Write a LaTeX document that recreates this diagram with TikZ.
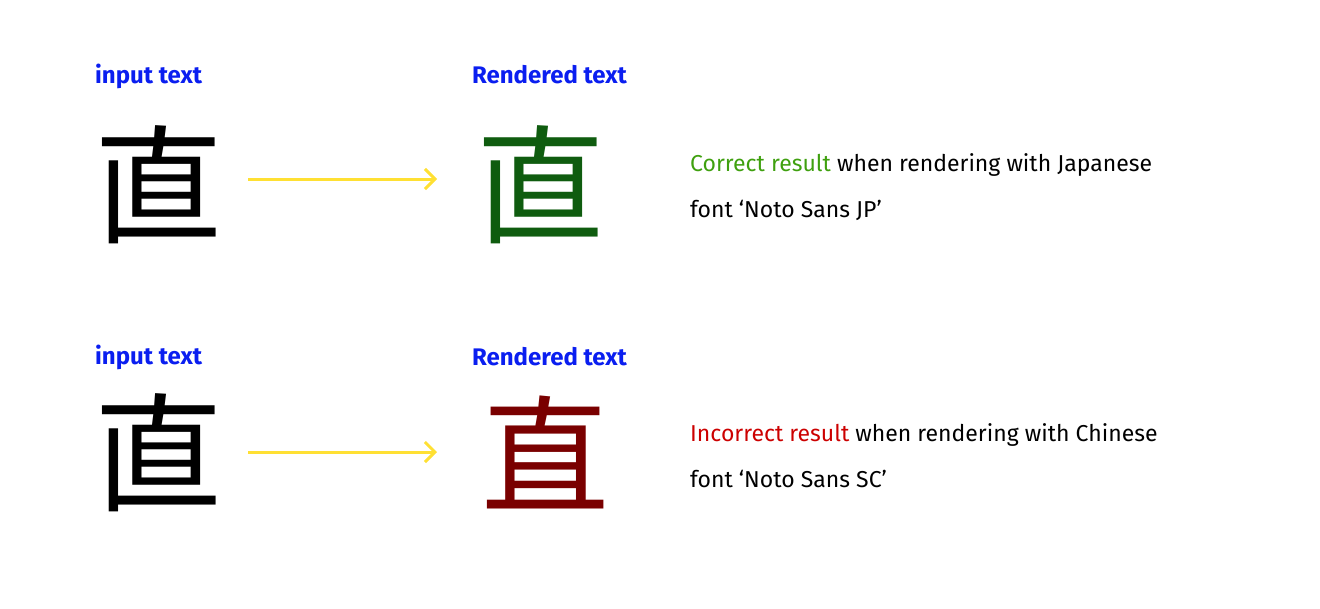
\documentclass[tikz,border=0pt]{standalone}
\usepackage{fontspec}
\setmainfont{Fira Sans}
\newfontfamily\jpfont{Noto Sans CJK JP}
\newfontfamily\scfont{Noto Sans CJK SC}
\usetikzlibrary{arrows.meta}
\definecolor{lblue}{HTML}{0A1EF0}
\definecolor{dgreen}{HTML}{0F5C0F}
\definecolor{dred}{HTML}{7A0000}
\definecolor{lgreen}{HTML}{3FA00F}
\definecolor{lred}{HTML}{CC0000}
\definecolor{yel}{HTML}{FFE033}
\tikzset{lab/.style={font=\fontsize{24}{28}\selectfont\bfseries, text=lblue, anchor=base west, inner sep=0},
  kanji/.style={font=\fontsize{128}{130}\selectfont, inner sep=0},
  desc/.style={font=\fontsize{23}{28}\selectfont, anchor=base west, inner sep=0},
  arr/.style={yel, line width=3pt, -{Straight Barb[length=10pt,width=20pt,line width=3pt]}}}
\begin{document}
\begin{tikzpicture}[x=1pt,y=-1pt]
\useasboundingbox (0,0) rectangle (1320,608);
\node[lab] (l1) at (95,83) {input text};
\node[lab] (r1) at (472,83) {Rendered text};
\node[lab] (l2) at (95,364) {input text};
\node[lab] (r2) at (472,365) {Rendered text};
\node[kanji] (k1) at (158,185) {\jpfont 直};
\node[kanji, text=dgreen] (g1) at (540,185) {\jpfont 直};
\node[kanji] (k2) at (158,453) {\jpfont 直};
\node[kanji, text=dred] (g2) at (545,452) {\scfont 直};
\coordinate (a1) at (248,179); \coordinate (b1) at (437,179);
\coordinate (a2) at (248,452); \coordinate (b2) at (437,452);
\draw[arr] (a1) -- (b1);
\draw[arr] (a2) -- (b2);
\node[desc] (d1) at (690,171) {\textcolor{lgreen}{Correct result} when rendering with Japanese};
\node[desc] (d1b) at (690,217) {font ‘Noto Sans JP’};
\node[desc] (d2) at (690,441) {\textcolor{lred}{Incorrect result} when rendering with Chinese};
\node[desc] (d2b) at (690,487) {font ‘Noto Sans SC’};
\end{tikzpicture}
\end{document}
